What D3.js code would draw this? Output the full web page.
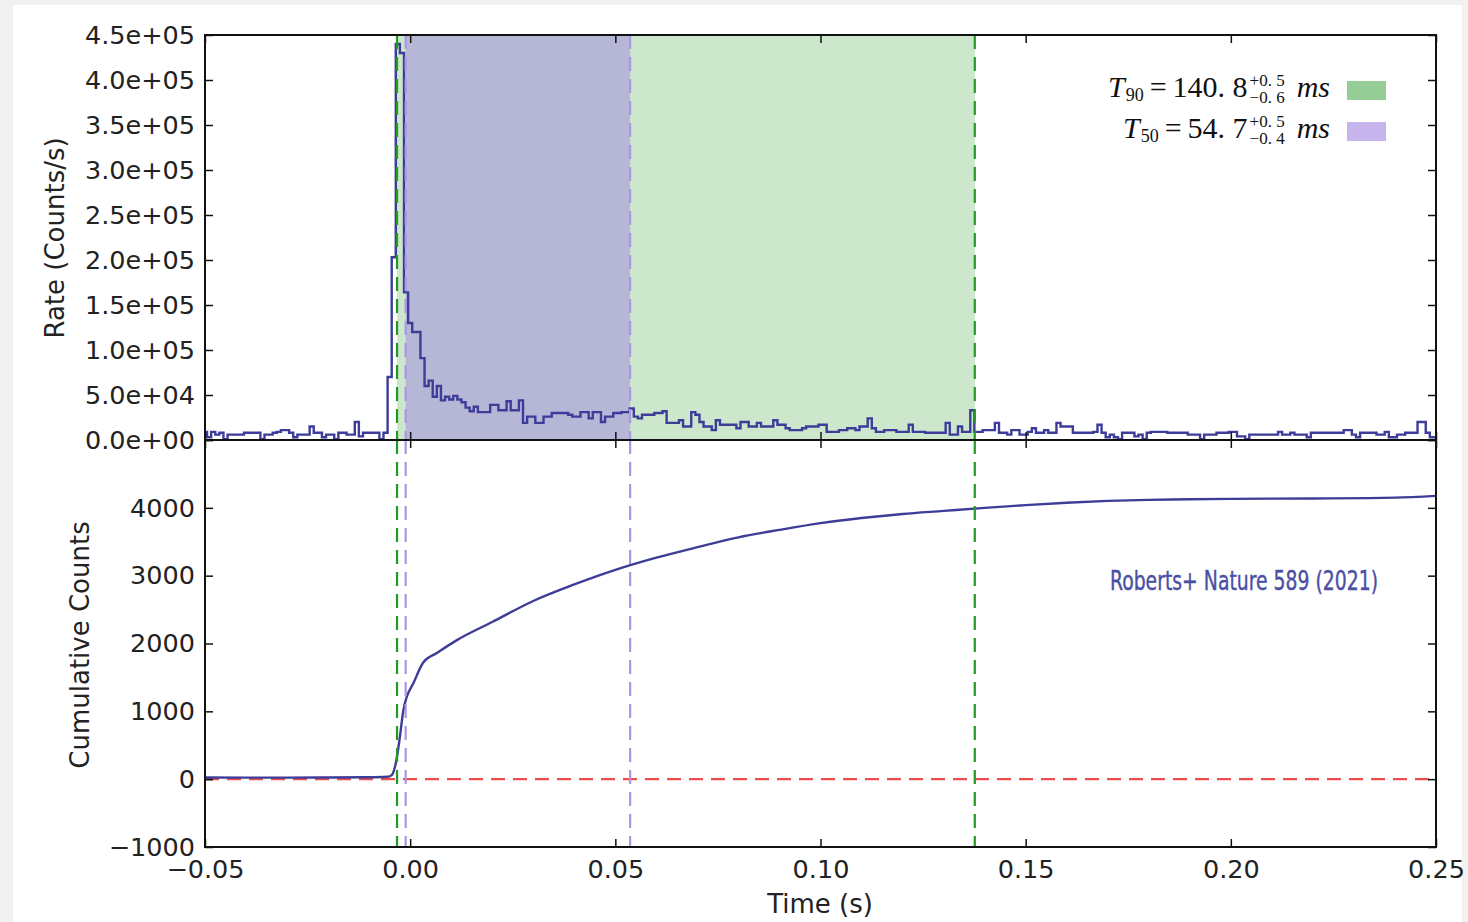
<!DOCTYPE html>
<html>
<head>
<meta charset="utf-8">
<script src="https://cdn.jsdelivr.net/npm/d3@7"></script>
<style>
  body { margin: 0; background: #f1f1f1; }
  svg { display: block; }
</style>
</head>
<body>
<div id="chart"></div>
<script>
// light curve, 1 ms bins, rates in thousands of counts/s
const binStart = -0.0505;
const binWidth = 0.001;
const rateK = [
  9, 3, 9, 6, 8, 1, 6, 6, 6, 6,
  8, 8, 8, 8, 1, 6, 6, 8, 9, 11,
  11, 8, 3, 6, 6, 6, 15, 8, 8, 3,
  6, 6, 1, 8, 8, 6, 6, 20, 4, 8,
  8, 8, 8, 1, 8, 70, 203, 440, 430, 164,
  130, 120, 120, 91, 60, 66, 48, 60, 44, 48,
  45, 49, 45, 42, 36, 32, 37, 31, 31, 31,
  39, 39, 33, 33, 43, 33, 33, 44, 19, 26,
  26, 19, 19, 26, 26, 30, 30, 30, 30, 28,
  26, 26, 31, 31, 24, 31, 31, 20, 26, 26,
  30, 30, 31, 31, 35, 26, 24, 28, 28, 28,
  30, 30, 32, 19, 19, 19, 22, 15, 15, 31,
  28, 20, 15, 15, 11, 22, 17, 17, 17, 17,
  13, 20, 20, 15, 15, 19, 15, 15, 15, 22,
  17, 17, 13, 11, 11, 11, 13, 15, 15, 15,
  17, 17, 9, 9, 9, 11, 11, 13, 13, 11,
  15, 15, 24, 13, 9, 9, 11, 11, 11, 9,
  9, 9, 17, 9, 9, 9, 8, 8, 8, 8,
  8, 19, 6, 6, 15, 9, 9, 33, 9, 9,
  11, 11, 11, 19, 8, 8, 6, 11, 11, 6,
  6, 9, 13, 8, 8, 11, 8, 8, 19, 15,
  15, 15, 8, 8, 8, 8, 8, 9, 17, 8,
  3, 6, 3, 1, 8, 8, 8, 4, 6, 1,
  8, 9, 9, 9, 9, 8, 8, 8, 8, 8,
  6, 6, 6, 1, 6, 6, 6, 8, 8, 8,
  9, 9, 4, 4, 1, 6, 6, 6, 6, 6,
  6, 6, 9, 6, 6, 8, 6, 6, 6, 3,
  8, 8, 8, 8, 8, 8, 8, 8, 11, 11,
  6, 3, 8, 8, 8, 8, 6, 6, 9, 3,
  3, 6, 6, 8, 8, 8, 20, 20, 8, 3,
  3
];

// cumulative counts
const cumTimes = [-0.050, -0.040, -0.030, -0.020, -0.010, -0.0055, -0.0045, -0.0035, -0.0025, -0.0017,
  -0.0009, 0.0008, 0.0031, 0.0065, 0.0114, 0.020, 0.030, 0.040, 0.050, 0.060,
  0.070, 0.080, 0.090, 0.100, 0.110, 0.120, 0.130, 0.140, 0.150, 0.160,
  0.170, 0.180, 0.190, 0.200, 0.220, 0.240, 0.250];
const cumCounts = [25, 22, 22, 25, 28, 35, 60, 236, 624, 1000,
  1200, 1417, 1712, 1860, 2050, 2317, 2627, 2870, 3085, 3265,
  3420, 3565, 3675, 3775, 3850, 3910, 3955, 4000, 4040, 4075,
  4102, 4118, 4126, 4132, 4138, 4150, 4177];

// burst intervals (s)
const t90 = [-0.0032, 0.1376];
const t50 = [-0.0011, 0.0536];

const rateTicks = [0, 5e4, 1e5, 1.5e5, 2e5, 2.5e5, 3e5, 3.5e5, 4e5, 4.5e5];
const rateTickLabels = ["0.0e+00", "5.0e+04", "1.0e+05", "1.5e+05", "2.0e+05",
  "2.5e+05", "3.0e+05", "3.5e+05", "4.0e+05", "4.5e+05"];
const cumTicks = [-1000, 0, 1000, 2000, 3000, 4000, 5000];
const cumTickLabels = ["\u22121000", "0", "1000", "2000", "3000", "4000", ""];
const timeTicks = [-0.05, 0, 0.05, 0.10, 0.15, 0.20, 0.25];
const timeTickLabels = ["\u22120.05", "0.00", "0.05", "0.10", "0.15", "0.20", "0.25"];

const W = 1468, H = 922;
const left = 205, right = 1436, top1 = 35, mid = 440, bot = 847;
const font = "'DejaVu Sans', sans-serif";

const svg = d3.select("#chart").append("svg").attr("width", W).attr("height", H);

// figure background
svg.append("rect").attr("x", 13).attr("y", 5).attr("width", 1449).attr("height", H - 5)
  .attr("fill", "#ffffff");

const x = d3.scaleLinear().domain([-0.05, 0.25]).range([left, right]);
const yTop = d3.scaleLinear().domain([0, 4.5e5]).range([mid, top1]);
const yBot = d3.scaleLinear().domain([-1000, 5000]).range([bot, mid]);

svg.append("clipPath").attr("id", "clipTop")
  .append("rect").attr("x", left).attr("y", top1).attr("width", right - left).attr("height", mid - top1);
svg.append("clipPath").attr("id", "clipBot")
  .append("rect").attr("x", left).attr("y", mid).attr("width", right - left).attr("height", bot - mid);

// ---------- top panel ----------
const gTop = svg.append("g");

gTop.append("rect")
  .attr("x", x(t90[0])).attr("y", top1)
  .attr("width", x(t90[1]) - x(t90[0])).attr("height", mid - top1)
  .attr("fill", "#cde7cd");
gTop.append("rect")
  .attr("x", x(t50[0])).attr("y", top1)
  .attr("width", x(t50[1]) - x(t50[0])).attr("height", mid - top1)
  .attr("fill", "#b6b7d7");

let steps = rateK.map((v, i) => [binStart + i * binWidth, v * 1000]);
steps.push([binStart + rateK.length * binWidth, rateK[rateK.length - 1] * 1000]);

gTop.append("path")
  .attr("clip-path", "url(#clipTop)")
  .attr("d", d3.line().x(d => x(d[0])).y(d => yTop(d[1])).curve(d3.curveStepAfter)(steps))
  .attr("fill", "none")
  .attr("stroke", "#3d3d99")
  .attr("stroke-width", 2.4);

// ---------- bottom panel ----------
const gBot = svg.append("g");

gBot.append("line")
  .attr("x1", left).attr("x2", right)
  .attr("y1", yBot(0)).attr("y2", yBot(0))
  .attr("stroke", "#ee4d4d").attr("stroke-width", 2.2)
  .attr("stroke-dasharray", "14,8");

let cum = cumTimes.map((t, i) => [t, cumCounts[i]]);
gBot.append("path")
  .attr("clip-path", "url(#clipBot)")
  .attr("d", d3.line().x(d => x(d[0])).y(d => yBot(d[1])).curve(d3.curveMonotoneX)(cum))
  .attr("fill", "none")
  .attr("stroke", "#3d3d99")
  .attr("stroke-width", 2.4);

// dashed interval markers in both panels
[[t90, "#229922"], [t50, "#ad95e6"]].forEach(([iv, col]) => {
  iv.forEach(t => {
    [[top1, mid], [mid, bot]].forEach(([y1, y2]) => {
      svg.append("line")
        .attr("x1", x(t)).attr("x2", x(t))
        .attr("y1", y1).attr("y2", y2)
        .attr("stroke", col).attr("stroke-width", 2.2)
        .attr("stroke-dasharray", "14,8");
    });
  });
});

// ---------- axes ----------
function styleAxis(g) {
  g.select(".domain").remove();
  g.selectAll(".tick line").attr("stroke", "#111").attr("stroke-width", 1.5);
  g.selectAll("text").attr("font-family", font).attr("font-size", 25.5).attr("fill", "#222");
}

svg.append("g").attr("transform", `translate(${left},0)`)
  .call(d3.axisLeft(yTop).tickValues(rateTicks).tickSize(-8).tickPadding(10)
    .tickFormat((d, i) => rateTickLabels[i]))
  .call(styleAxis);
svg.append("g").attr("transform", `translate(${right},0)`)
  .call(d3.axisRight(yTop).tickValues(rateTicks).tickSize(-8).tickFormat(""))
  .call(styleAxis);

svg.append("g").attr("transform", `translate(${left},0)`)
  .call(d3.axisLeft(yBot).tickValues(cumTicks).tickSize(-8).tickPadding(10)
    .tickFormat((d, i) => cumTickLabels[i]))
  .call(styleAxis);
svg.append("g").attr("transform", `translate(${right},0)`)
  .call(d3.axisRight(yBot).tickValues(cumTicks).tickSize(-8).tickFormat(""))
  .call(styleAxis);

svg.append("g").attr("transform", `translate(0,${top1})`)
  .call(d3.axisTop(x).tickValues(timeTicks).tickSize(-8).tickFormat(""))
  .call(styleAxis);
svg.append("g").attr("transform", `translate(0,${mid})`)
  .call(d3.axisBottom(x).tickValues(timeTicks).tickSize(-8).tickFormat(""))
  .call(styleAxis);
svg.append("g").attr("transform", `translate(0,${mid})`)
  .call(d3.axisTop(x).tickValues(timeTicks).tickSize(-8).tickFormat(""))
  .call(styleAxis);
svg.append("g").attr("transform", `translate(0,${bot})`)
  .call(d3.axisBottom(x).tickValues(timeTicks).tickSize(-8).tickPadding(13)
    .tickFormat((d, i) => timeTickLabels[i]))
  .call(styleAxis);

// frames
[[top1, mid], [mid, bot]].forEach(([y1, y2]) => {
  svg.append("rect")
    .attr("x", left).attr("y", y1)
    .attr("width", right - left).attr("height", y2 - y1)
    .attr("fill", "none").attr("stroke", "#111").attr("stroke-width", 2);
});

// axis labels
svg.append("text")
  .attr("transform", "translate(64,238) rotate(-90)")
  .attr("text-anchor", "middle")
  .attr("font-family", font).attr("font-size", 26).attr("fill", "#222")
  .text("Rate (Counts/s)");
svg.append("text")
  .attr("transform", "translate(89,645) rotate(-90)")
  .attr("text-anchor", "middle")
  .attr("font-family", font).attr("font-size", 26).attr("fill", "#222")
  .text("Cumulative Counts");
svg.append("text")
  .attr("x", 820).attr("y", 913)
  .attr("text-anchor", "middle")
  .attr("font-family", font).attr("font-size", 26).attr("fill", "#222")
  .text("Time (s)");

// annotation
svg.append("text")
  .attr("x", 1110).attr("y", 590)
  .attr("font-family", "'DejaVu Sans Condensed', 'Liberation Sans Narrow', sans-serif")
  .attr("font-size", 27)
  .attr("textLength", 268).attr("lengthAdjust", "spacingAndGlyphs")
  .attr("fill", "#4b4fa3")
  .attr("stroke", "#4b4fa3").attr("stroke-width", 0.4)
  .text("Roberts+ Nature 589 (2021)");

// ---------- legend ----------
const serif = "'Liberation Serif', 'DejaVu Serif', serif";
const legendRows = [
  { sub: "90", val: "140. 8", up: "+0. 5", down: "\u22120. 6", color: "#96cc96", y: 97 },
  { sub: "50", val: "54. 7", up: "+0. 5", down: "\u22120. 4", color: "#c6b5ec", y: 138 }
];

legendRows.forEach(r => {
  const g = svg.append("g");
  let cx = 0;
  function piece(txt, size, italic, dy, adv) {
    const t = g.append("text").attr("x", cx).attr("y", r.y + dy)
      .attr("font-family", serif).attr("font-size", size)
      .attr("font-style", italic ? "italic" : "normal").attr("fill", "#111")
      .text(txt);
    const w = t.node().getComputedTextLength();
    if (adv) cx += w;
    return w;
  }
  piece("T", 30, true, 0, true);
  cx += 1;
  piece(r.sub, 18, false, 4, true);
  cx += 6;
  piece("=", 30, false, 0, true);
  cx += 6;
  piece(r.val, 30, false, 0, true);
  cx += 2;
  const w1 = piece(r.up, 17, false, -11, false);
  const w2 = piece(r.down, 17, false, 6, false);
  cx += Math.max(w1, w2) + 12;
  piece("ms", 30, true, 0, true);
  g.attr("transform", `translate(${1330 - cx},0)`);

  svg.append("rect")
    .attr("x", 1347).attr("y", r.y - 16)
    .attr("width", 39).attr("height", 19)
    .attr("fill", r.color);
});
</script>
</body>
</html>
